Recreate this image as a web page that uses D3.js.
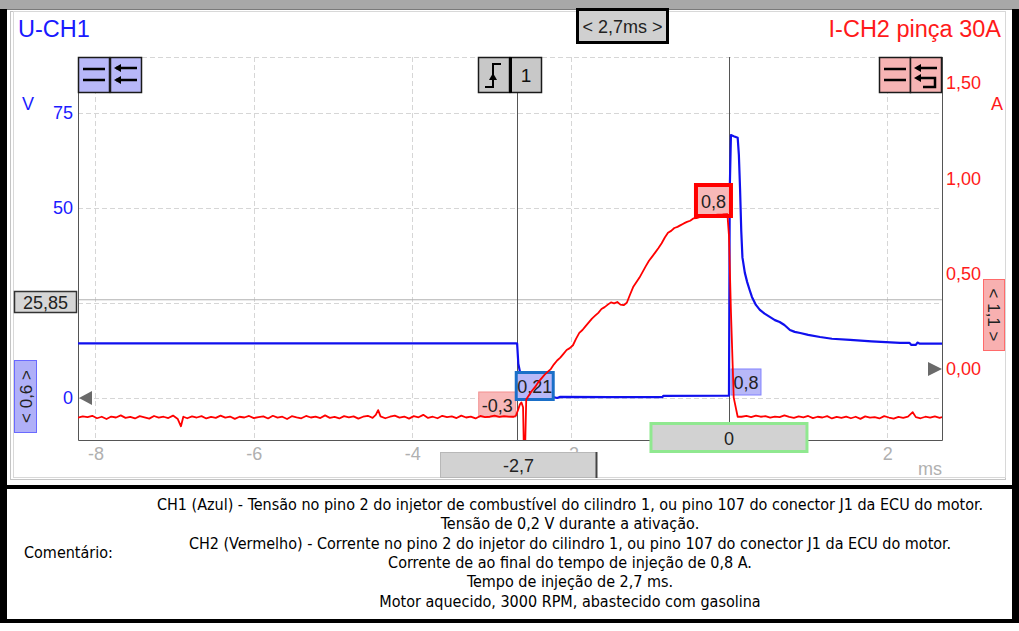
<!DOCTYPE html>
<html><head><meta charset="utf-8">
<script src="https://cdn.jsdelivr.net/npm/d3@7"></script>
<style>
html,body{margin:0;padding:0;background:#fff;}
svg{display:block;font-family:"Liberation Sans",Arial,sans-serif;}
</style></head>
<body><svg id="c" width="1019" height="631"></svg>
<script>
// ---------- data ----------
const tickMs = [-8, -6, -4, -2, 0, 2];
const tickMsLabels = [-8, -6, -4, -2, 2];   // "0" is hidden behind the cursor box
const tickV = [0, 25, 50, 75];
const tickVLabels = [0, 50, 75];            // "25" is hidden behind the 25,85 box
const tickA = [0, 0.5, 1.0, 1.5];
const cursorTimes = [-2.68, 0];
const cursorLevelV = 25.85;

// CH1 voltage (ms, V)
const ch1 = [
 [-8.22,14.4],[-2.69,14.4],[-2.675,14.3],[-2.66,9],[-2.64,7.0],[-2.62,5],[-2.60,2],[-2.57,0.5],
 [-2.50,0.3],[-2.22,0.25],[-2.17,0.0],[-2.13,0.3],[-1.5,0.25],[-0.84,0.25],[-0.83,0.55],[-0.02,0.6],
 [0.00,0.6],[0.01,55],[0.025,69.2],[0.06,68.9],[0.11,68.5],[0.125,64],[0.14,55],[0.155,44],[0.17,37],
 [0.20,33],[0.23,30.5],[0.26,28.5],[0.29,26.6],[0.34,24.5],[0.39,23.2],[0.45,22.2],[0.52,21.3],
 [0.58,20.5],[0.64,20.0],[0.70,19.2],[0.77,17.9],[0.83,17.4],[0.90,17.1],[1.00,16.6],[1.15,16.05],
 [1.30,15.6],[1.53,15.3],[1.80,14.9],[2.16,14.5],[2.28,14.5],[2.30,14.0],[2.36,14.0],[2.38,14.6],
 [2.41,14.3],[2.69,14.3]
];

// CH2 current (ms, A)
const ch2 = [
 [-8.22,-0.255],[-8.16,-0.248],[-8.10,-0.252],[-8.04,-0.245],[-7.98,-0.258],[-7.92,-0.250],[-7.86,-0.262],
 [-7.80,-0.249],[-7.74,-0.254],[-7.68,-0.243],[-7.62,-0.256],[-7.56,-0.251],[-7.50,-0.259],[-7.44,-0.247],
 [-7.38,-0.253],[-7.32,-0.260],[-7.26,-0.246],[-7.20,-0.255],[-7.14,-0.250],[-7.08,-0.257],[-7.02,-0.244],
 [-6.96,-0.262],[-6.92,-0.300],[-6.89,-0.250],[-6.84,-0.258],[-6.78,-0.248],[-6.72,-0.254],[-6.66,-0.247],
 [-6.60,-0.259],[-6.54,-0.251],[-6.48,-0.256],[-6.42,-0.244],[-6.36,-0.255],[-6.30,-0.249],[-6.24,-0.261],
 [-6.18,-0.250],[-6.12,-0.254],[-6.06,-0.246],[-6.00,-0.257],[-5.94,-0.252],[-5.88,-0.248],[-5.82,-0.259],
 [-5.76,-0.245],[-5.70,-0.255],[-5.64,-0.250],[-5.58,-0.262],[-5.52,-0.247],[-5.46,-0.253],[-5.40,-0.258],
 [-5.34,-0.246],[-5.28,-0.254],[-5.22,-0.249],[-5.16,-0.257],[-5.10,-0.243],[-5.04,-0.256],[-4.98,-0.251],
 [-4.92,-0.259],[-4.86,-0.247],[-4.80,-0.253],[-4.74,-0.248],[-4.68,-0.260],[-4.62,-0.250],[-4.56,-0.245],
 [-4.50,-0.256],[-4.46,-0.240],[-4.43,-0.215],[-4.40,-0.248],[-4.34,-0.258],[-4.28,-0.250],[-4.22,-0.244],
 [-4.16,-0.255],[-4.10,-0.249],[-4.04,-0.260],[-3.98,-0.247],[-3.92,-0.253],[-3.86,-0.240],[-3.80,-0.256],
 [-3.74,-0.250],[-3.68,-0.258],[-3.62,-0.245],[-3.56,-0.252],[-3.50,-0.248],[-3.44,-0.257],[-3.38,-0.244],
 [-3.32,-0.254],[-3.26,-0.249],[-3.20,-0.259],[-3.14,-0.246],[-3.08,-0.252],[-3.02,-0.250],[-2.96,-0.244],
 [-2.90,-0.251],[-2.84,-0.247],[-2.78,-0.249],[-2.72,-0.250],
 [-2.69,-0.245],[-2.66,-0.210],[-2.64,-0.185],[-2.62,-0.175],[-2.60,-0.200],[-2.59,-0.420],[-2.575,-0.430],
 [-2.56,-0.160],[-2.53,-0.140],[-2.49,-0.115],[-2.45,-0.095],[-2.41,-0.070],[-2.37,-0.050],[-2.33,-0.030],
 [-2.29,-0.015],[-2.25,0.000],[-2.21,0.025],[-2.17,0.045],[-2.13,0.060],[-2.09,0.080],[-2.05,0.100],
 [-2.01,0.110],[-1.97,0.125],[-1.93,0.160],[-1.89,0.190],[-1.85,0.205],[-1.81,0.225],[-1.77,0.245],
 [-1.73,0.265],[-1.69,0.280],[-1.65,0.295],[-1.61,0.315],[-1.57,0.325],[-1.53,0.338],[-1.49,0.350],
 [-1.45,0.345],[-1.41,0.352],[-1.37,0.338],[-1.33,0.335],[-1.29,0.348],[-1.25,0.390],[-1.21,0.430],
 [-1.17,0.455],[-1.13,0.480],[-1.09,0.510],[-1.05,0.540],[-1.01,0.568],[-0.97,0.590],[-0.93,0.612],
 [-0.89,0.635],[-0.85,0.660],[-0.81,0.690],[-0.77,0.715],[-0.73,0.725],[-0.69,0.740],[-0.65,0.746],
 [-0.61,0.755],[-0.57,0.764],[-0.53,0.772],[-0.49,0.778],[-0.45,0.790],[-0.41,0.792],[-0.37,0.797],
 [-0.31,0.800],[-0.25,0.805],[-0.20,0.808],[-0.14,0.810],[-0.08,0.811],[-0.02,0.813],
 [0.00,0.700],[0.025,0.300],[0.06,-0.150],[0.11,-0.250],
 [0.16,-0.250],[0.22,-0.246],[0.28,-0.252],[0.34,-0.244],[0.40,-0.250],[0.46,-0.247],[0.52,-0.255],
 [0.58,-0.249],[0.64,-0.252],[0.70,-0.243],[0.76,-0.251],[0.82,-0.256],[0.88,-0.248],[0.94,-0.253],
 [1.00,-0.246],[1.06,-0.257],[1.12,-0.250],[1.18,-0.254],[1.24,-0.247],[1.30,-0.259],[1.36,-0.251],
 [1.42,-0.256],[1.48,-0.249],[1.54,-0.258],[1.60,-0.250],[1.66,-0.261],[1.72,-0.248],[1.78,-0.255],
 [1.84,-0.252],[1.90,-0.259],[1.96,-0.247],[2.02,-0.254],[2.08,-0.260],[2.14,-0.251],[2.20,-0.256],
 [2.26,-0.249],[2.32,-0.226],[2.36,-0.252],[2.42,-0.258],[2.48,-0.250],[2.54,-0.255],[2.60,-0.248],
 [2.66,-0.256],[2.69,-0.252]
];

const commentLines = [
 "CH1 (Azul) - Tensão no pino 2 do injetor de combustível do cilindro 1, ou pino 107 do conector J1 da ECU do motor.",
 "Tensão de 0,2 V durante a ativação.",
 "CH2 (Vermelho) - Corrente no pino 2 do injetor do cilindro 1, ou pino 107 do conector J1 da ECU do motor.",
 "Corrente de ao final do tempo de injeção de 0,8 A.",
 "Tempo de injeção de 2,7 ms.",
 "Motor aquecido, 3000 RPM, abastecido com gasolina"
];

// ---------- drawing ----------
const svg = d3.select("#c");
const L = 78, R = 942, T = 57, B = 440;
const x = d3.scaleLinear().domain([-8.22, 2.69]).range([L, R]);
const yV = d3.scaleLinear().domain([-11.05, 89.74]).range([B, T]);
const yA = d3.scaleLinear().domain([-0.372, 1.637]).range([B, T]);
const BLUE = "#1a1aff", RED = "#ff1a1a";
const fmtComma = (d, p) => d.toFixed(p).replace(".", ",");

// frame
svg.append("rect").attr("x",0).attr("y",0).attr("width",1019).attr("height",9).attr("fill","#a8a8a8");
svg.append("line").attr("x1",0).attr("x2",1019).attr("y1",9.5).attr("y2",9.5).attr("stroke","#7a7a7a");
svg.append("rect").attr("x",0).attr("y",9).attr("width",7).attr("height",614).attr("fill","#000");
svg.append("rect").attr("x",1012).attr("y",9).attr("width",7).attr("height",614).attr("fill","#000");
svg.append("rect").attr("x",10.5).attr("y",11.5).attr("width",995).attr("height",468).attr("fill","none").attr("stroke","#c4c4c4").attr("stroke-width",1);
svg.append("rect").attr("x",13.5).attr("y",11.5).attr("width",992).attr("height",466).attr("fill","none").attr("stroke","#d8d8d8").attr("stroke-width",1);
svg.append("rect").attr("x",0).attr("y",485).attr("width",1019).attr("height",4).attr("fill","#000");
svg.append("rect").attr("x",0).attr("y",619).attr("width",1019).attr("height",4).attr("fill","#000");

// gridlines
const grid = svg.append("g").attr("stroke","#d6d6d6").attr("stroke-dasharray","5,3").attr("stroke-width",1);
tickV.forEach(v => grid.append("line").attr("x1",L).attr("x2",R).attr("y1",Math.round(yV(v))+0.5).attr("y2",Math.round(yV(v))+0.5));
grid.append("line").attr("x1",L).attr("x2",R).attr("y1",T+0.5).attr("y2",T+0.5);
tickMs.forEach(t => grid.append("line").attr("x1",Math.round(x(t))+0.5).attr("x2",Math.round(x(t))+0.5).attr("y1",T).attr("y2",B));

// horizontal cursor level
svg.append("line").attr("x1",L).attr("x2",R).attr("y1",yV(cursorLevelV)).attr("y2",yV(cursorLevelV)).attr("stroke","#b0b0b0").attr("stroke-width",1);

// plot border
svg.append("path").attr("d",`M${L+0.5},${T}V${B+0.5}H${R+0.5}V${T}`).attr("fill","none").attr("stroke","#555").attr("stroke-width",1);

// vertical cursors
cursorTimes.forEach(t => svg.append("line").attr("x1",Math.round(x(t))+0.5).attr("x2",Math.round(x(t))+0.5).attr("y1",T).attr("y2",B).attr("stroke","#555").attr("stroke-width",1));

// axes
const axL = svg.append("g").attr("transform",`translate(${L},0)`)
  .call(d3.axisLeft(yV).tickValues(tickVLabels).tickSize(0).tickPadding(5).tickFormat(d3.format("d")));
const axR = svg.append("g").attr("transform",`translate(${R},0)`)
  .call(d3.axisRight(yA).tickValues(tickA).tickSize(0).tickPadding(4).tickFormat(d => fmtComma(d,2)));
const axB = svg.append("g").attr("transform",`translate(0,${B})`)
  .call(d3.axisBottom(x).tickValues(tickMsLabels).tickSize(0).tickPadding(7).tickFormat(d => d < 0 ? "-" + Math.abs(d) : String(d)));
[axL, axR, axB].forEach(a => { a.select(".domain").remove(); a.selectAll("text").attr("font-size",18).attr("font-family","Liberation Sans, Arial, sans-serif"); });
axL.selectAll("text").attr("fill", BLUE);
axR.selectAll("text").attr("fill", RED);
axB.selectAll("text").attr("fill", "#b0b0b0");

// unit labels
svg.append("text").attr("x",22).attr("y",110).attr("font-size",18).attr("fill",BLUE).text("V");
svg.append("text").attr("x",991).attr("y",110).attr("font-size",18).attr("fill",RED).text("A");
svg.append("text").attr("x",930).attr("y",475).attr("text-anchor","middle").attr("font-size",18).attr("fill","#b0b0b0").text("ms");

// titles
svg.append("text").attr("x",18).attr("y",37).attr("font-size",23.5).attr("fill",BLUE).text("U-CH1");
svg.append("text").attr("x",1001).attr("y",37).attr("text-anchor","end").attr("font-size",23.5).attr("fill",RED).text("I-CH2 pinça 30A");

// clip
svg.append("clipPath").attr("id","pc").append("rect").attr("x",L).attr("y",T).attr("width",R-L).attr("height",B-T);

// blue trace
svg.append("path").datum(ch1).attr("clip-path","url(#pc)")
  .attr("d", d3.line().x(d => x(d[0])).y(d => yV(d[1])))
  .attr("fill","none").attr("stroke","#1010ee").attr("stroke-width",2.2).attr("stroke-linejoin","round");

// helper box
function box(x0, y0, w, h, fill, stroke, sw, label, opts = {}) {
  const g = svg.append("g");
  g.append("rect").attr("x",x0).attr("y",y0).attr("width",w).attr("height",h)
    .attr("fill",fill).attr("stroke",stroke).attr("stroke-width",sw);
  if (label !== undefined) {
    const t = g.append("text").attr("font-size", opts.fs || 18).attr("fill", opts.color || "#222")
      .attr("text-anchor","middle").attr("dominant-baseline","central");
    if (opts.rotate) {
      t.attr("transform",`translate(${x0+w/2},${y0+h/2}) rotate(${opts.rotate})`).attr("x",0).attr("y",1);
    } else {
      t.attr("x", x0 + w/2).attr("y", y0 + h/2 + 1);
    }
    t.text(label);
  }
  return g;
}

// cursor value boxes
const xc1 = x(cursorTimes[0]), xc0 = x(cursorTimes[1]);
box(xc1 - 38, 392, 37, 25, "#f8b8b8", "#f39090", 1, "-0,3");
box(xc1 - 0.5, 372.5, 37, 27, "#b8b8f8", "#1a6fc8", 3, "0,21");
box(xc0 - 33, 185, 35, 31, "#f8b8b8", "#ff0000", 4, "0,8");
box(xc0 + 2, 369, 30, 26, "#b8b8f8", "#8080ff", 1, "0,8");

// red trace
svg.append("path").datum(ch2).attr("clip-path","url(#pc)")
  .attr("d", d3.line().x(d => x(d[0])).y(d => yA(d[1])))
  .attr("fill","none").attr("stroke","#ff0000").attr("stroke-width",1.8).attr("stroke-linejoin","round");

// bottom cursor boxes
box(xc0 - 78, 423.5, 156, 28, "#d2d2d2", "#90e890", 3, "0");
box(440.5, 452.5, 156, 25, "#d2d2d2", "#b8b8b8", 1, "-2,7");
svg.append("path").attr("d","M596.5,452V478").attr("stroke","#444").attr("stroke-width",2);

// left / right side labels
box(14.5, 291.5, 62, 21, "#d6d6d6", "#333", 1.5, "25,85");
box(14.5, 360.5, 22, 72, "#b0b0f8", "#6a6aff", 1, "< 0,6 >", {rotate:-90, fs:17});
box(983.5, 279.5, 21, 71, "#f8b0b0", "#ff6a6a", 1, "< 1,1 >", {rotate:90, fs:17});

// zero markers
svg.append("path").attr("d",`M${L+1},${yV(0)} L${L+14},${yV(0)-7} L${L+14},${yV(0)+7}Z`).attr("fill","#6a6a6a");
svg.append("path").attr("d",`M${R},${yA(0)} L${R-14},${yA(0)-7} L${R-14},${yA(0)+7}Z`).attr("fill","#6a6a6a");

// top range box
box(577.5, 9.5, 90, 33, "#d0d0d0", "#000", 3, "< 2,7ms >", {fs:18});

// buttons
function btn(x0, fill) {
  svg.append("rect").attr("x",x0+0.5).attr("y",T+0.5).attr("width",31).attr("height",35).attr("fill",fill).attr("stroke","#1a1a1a").attr("stroke-width",1.5);
}
// left pair
btn(78, "#b8b8f8"); btn(110, "#b8b8f8");
svg.append("path").attr("d","M83,69H105M83,80H105").attr("stroke","#000").attr("stroke-width",2.5);
svg.append("path").attr("d","M116,68H137M116,80H137").attr("stroke","#000").attr("stroke-width",2.5);
svg.append("path").attr("d","M114,68L121,64L121,72ZM114,80L121,76L121,84Z").attr("fill","#000");
// right pair
btn(879, "#f6b4b4"); btn(910, "#f6b4b4");
svg.append("path").attr("d","M884,69H906M884,80H906").attr("stroke","#000").attr("stroke-width",2.5);
svg.append("path").attr("d","M917,68H937M917,78H935V87H923").attr("stroke","#000").attr("stroke-width",2.5).attr("fill","none");
svg.append("path").attr("d","M914,68L921,64L921,72ZM914,78L921,74L921,82Z").attr("fill","#000");
// trigger button
btn(478, "#c8c8c8"); btn(510, "#c8c8c8");
svg.append("line").attr("x1",510.5).attr("x2",510.5).attr("y1",T).attr("y2",T+36).attr("stroke","#000").attr("stroke-width",3);
svg.append("path").attr("d","M485,87H493V64H501").attr("stroke","#000").attr("stroke-width",2).attr("fill","none");
svg.append("path").attr("d","M489,80L493,73L497,80Z").attr("fill","#000");
svg.append("text").attr("x",526).attr("y",82).attr("text-anchor","middle").attr("font-size",19).attr("fill","#111").text("1");

// comment section
const cf = "'Liberation Sans Narrow','DejaVu Sans Condensed','Arial Narrow',sans-serif";
svg.append("text").attr("x",24).attr("y",558).attr("font-size",16).attr("font-family",cf).attr("fill","#000").text("Comentário:");
const lineY = [510, 529, 549, 568, 587, 607];
commentLines.forEach((s, i) => svg.append("text").attr("x",570).attr("y",lineY[i]).attr("text-anchor","middle")
  .attr("font-size",16).attr("font-family",cf).attr("fill","#000").text(s));
</script></body></html>
